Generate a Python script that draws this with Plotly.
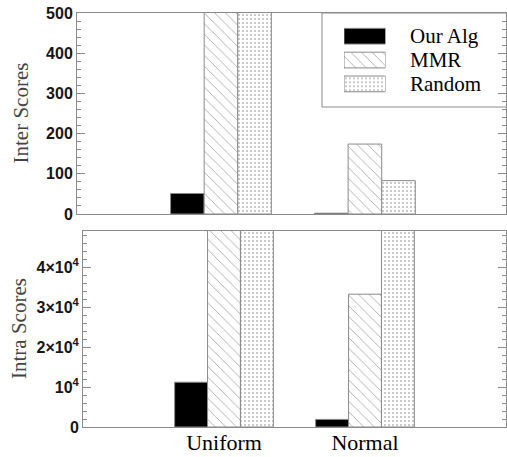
import plotly.graph_objects as go

W, H = 507, 457

categories = ["Uniform", "Normal"]
series_names = ["Our Alg", "MMR", "Random"]
inter_our = [51, 2]
inter_mmr = [1200, 174]
inter_random = [1100, 83]
intra_our = [11200, 1900]
intra_mmr = [90000, 33200]
intra_random = [80000, 60000]

inter_ticks = [0, 100, 200, 300, 400, 500]
intra_ticks = [0, 10000, 20000, 30000, 40000]
intra_ticktext = ["0", "10<sup>4</sup>", "2\u00d710<sup>4</sup>", "3\u00d710<sup>4</sup>", "4\u00d710<sup>4</sup>"]

SERIF = "Liberation Serif, Times New Roman, serif"
SANS = "Liberation Sans, Arial, sans-serif"
GRAY = "#8a8a8a"

styles = {
    "Our Alg": dict(color="black", pattern=dict(shape="")),
    "MMR": dict(color="white", pattern=dict(shape="\\", size=7.5, solidity=0.12, fgcolor="#555", bgcolor="white", fillmode="overlay")),
    "Random": dict(color="white", pattern=dict(shape=".", size=4, solidity=0.12, fgcolor="#000", bgcolor="white", fillmode="overlay")),
}

fig = go.Figure()
inter_vals = [inter_our, inter_mmr, inter_random]
intra_vals = [intra_our, intra_mmr, intra_random]
for name, iv, av in zip(series_names, inter_vals, intra_vals):
    st = styles[name]
    mk = dict(color=st["color"], pattern=st["pattern"], line=dict(color=GRAY, width=1))
    fig.add_trace(go.Bar(x=categories, y=iv, name=name, marker=mk, xaxis="x", yaxis="y", showlegend=False))
    fig.add_trace(go.Bar(x=categories, y=av, name=name, marker=mk, xaxis="x2", yaxis="y2", showlegend=False))
    # legend swatch
    fig.add_trace(go.Bar(y=[name], x=[1], orientation="h", marker=mk, width=0.66,
                         xaxis="x3", yaxis="y3", showlegend=False, hoverinfo="skip"))

def px_x(p):
    return p / W

def px_y(p):
    return 1 - p / H

tickfont = dict(family=SANS, size=16, color="#151515", weight="bold")

fig.update_layout(
    width=W, height=H,
    margin=dict(l=0, r=0, t=0, b=0),
    paper_bgcolor="white", plot_bgcolor="rgba(0,0,0,0)",
    barmode="group", bargap=0.3, bargroupgap=0,
    showlegend=False,
    xaxis=dict(domain=[px_x(77), px_x(506)], type="category", categoryarray=categories,
               range=[-1, 1.98], showticklabels=False, ticks="", showline=True, mirror=True,
               linecolor=GRAY, linewidth=1, showgrid=False, zeroline=False, anchor="y", automargin=False),
    yaxis=dict(domain=[px_y(214), px_y(13)], range=[0, 500], tickvals=inter_ticks,
               ticks="inside", ticklen=8, tickcolor=GRAY, tickwidth=1,
               minor=dict(dtick=20, ticks="inside", ticklen=4, tickcolor=GRAY, tickwidth=1),
               showline=True, mirror="ticks", linecolor=GRAY, linewidth=1, showgrid=False,
               zeroline=False, tickfont=tickfont, anchor="x", automargin=False, ticklabelstandoff=0),
    xaxis2=dict(domain=[px_x(83), px_x(506)], type="category", categoryarray=categories,
                range=[-1, 2], ticks="", showline=True, mirror=True,
                linecolor=GRAY, linewidth=1, showgrid=False, zeroline=False, anchor="y2",
                tickfont=dict(family=SERIF, size=22, color="black"), automargin=False,
                ticklabelstandoff=-4),
    yaxis2=dict(domain=[px_y(427), px_y(231)], range=[0, 49000], tickvals=intra_ticks,
                ticktext=intra_ticktext,
                ticks="inside", ticklen=8, tickcolor=GRAY, tickwidth=1,
                minor=dict(dtick=2000, ticks="inside", ticklen=4, tickcolor=GRAY, tickwidth=1),
                showline=True, mirror="ticks", linecolor=GRAY, linewidth=1, showgrid=False,
                zeroline=False, tickfont=tickfont, anchor="x2", automargin=False, ticklabelstandoff=0),
    xaxis3=dict(domain=[px_x(344), px_x(385.5)], range=[0, 1], visible=False, anchor="y3", fixedrange=True),
    yaxis3=dict(domain=[px_y(95.8), px_y(24.3)], type="category", categoryarray=series_names[::-1],
                range=[-0.5, 2.5], visible=False, anchor="x3", fixedrange=True),
)

# legend box
fig.add_shape(type="rect", xref="paper", yref="paper", x0=px_x(322), x1=px_x(520),
              y0=px_y(107), y1=px_y(13), line=dict(color=GRAY, width=1),
              fillcolor="rgba(0,0,0,0)", layer="above")
for i, name in enumerate(series_names):
    yc = 36.2 + i * 23.85
    fig.add_annotation(x=px_x(408), y=px_y(yc), xref="paper", yref="paper", text=name,
                       showarrow=False, xanchor="left", yanchor="middle",
                       font=dict(family=SERIF, size=21, color="black"))

fig.add_annotation(x=px_x(20), y=px_y((13 + 214) / 2), xref="paper", yref="paper",
                   text="Inter Scores", textangle=-90, showarrow=False,
                   xanchor="center", yanchor="middle",
                   font=dict(family=SERIF, size=21, color="#444"))
fig.add_annotation(x=px_x(19), y=px_y((231 + 427) / 2), xref="paper", yref="paper",
                   text="Intra Scores", textangle=-90, showarrow=False,
                   xanchor="center", yanchor="middle",
                   font=dict(family=SERIF, size=21, color="#444"))

fig.write_html("out.html", config={"displayModeBar": False},
               post_script="document.body.style.margin='0';document.body.style.padding='0';document.body.style.overflow='hidden';")
